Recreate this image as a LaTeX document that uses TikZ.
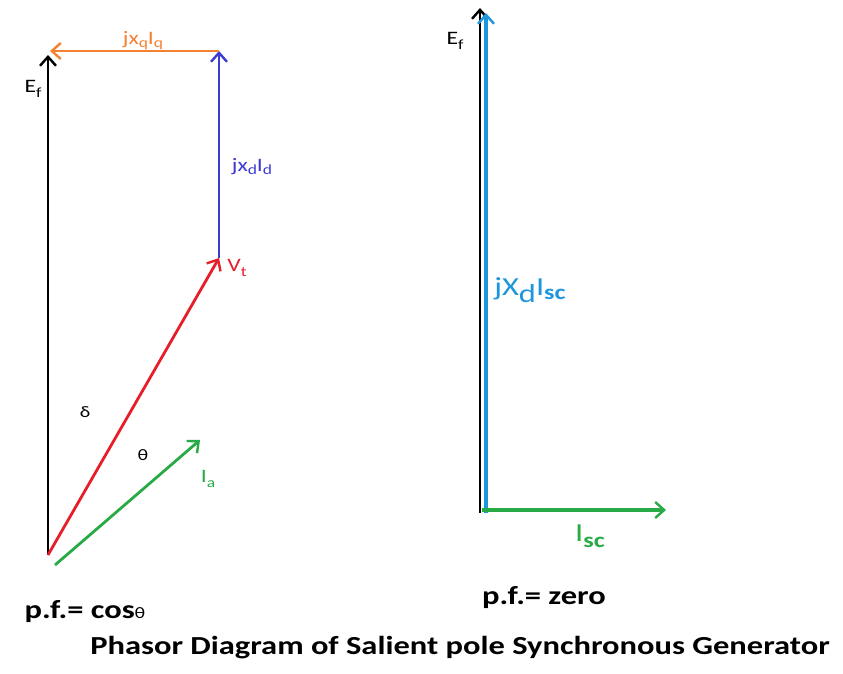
\documentclass[tikz,border=0pt]{standalone}
\usepackage{fontspec}
\setmainfont{Carlito}
\newfontfamily\wf[FakeStretch=1.25]{Carlito}
\usetikzlibrary{arrows.meta}
\definecolor{ored}{RGB}{230,30,40}
\definecolor{oorange}{RGB}{245,130,50}
\definecolor{oblue}{RGB}{60,60,210}
\definecolor{ogreen}{RGB}{40,170,70}
\definecolor{ocyan}{RGB}{30,150,220}
\newcommand{\sbs}[2]{\raisebox{#1}{\fontsize{14}{15}\selectfont #2}}
\tikzset{
  vec/.style={line width=2.8pt,-{Straight Barb[length=9pt,width=16pt,line width=2.4pt]}},
  lbl/.style={inner sep=0pt,font=\wf\fontsize{19}{21}\selectfont},
  big/.style={inner sep=0pt,font=\wf\bfseries\fontsize{26}{30}\selectfont}
}
\begin{document}
\begin{tikzpicture}[x=1pt,y=1pt]
\useasboundingbox (0,0) rectangle (843,673);
% left diagram (y = 673 - pixel y)
\coordinate (O) at (48,118);
\coordinate (EfT) at (48,618);
\coordinate (V) at (219,415);
\coordinate (B) at (219,622);
\coordinate (Q) at (50,622);
\coordinate (Ia0) at (55,108);
\coordinate (Ia1) at (200,233);
\draw[vec,black] (O) -- (EfT);
\draw[vec,ored] (O) -- (V);
\draw[vec,oblue,line width=2.4pt] (V) -- (B);
\draw[vec,oorange] (B) -- (Q);
\draw[vec,ogreen] (Ia0) -- (Ia1);
\node[lbl] (lef) at (33,584) {E\sbs{-5pt}{f}};
\node[lbl,oorange] (lxq) at (143,632) {jx\sbs{-3pt}{q}I\sbs{-3pt}{q}};
\node[lbl,oblue] (lxd) at (252,506) {jx\sbs{-3pt}{d}I\sbs{-3pt}{d}};
\node[lbl,ored] (lvt) at (237,405) {V\sbs{-5pt}{t}};
\node[lbl,font=\wf\fontsize{16}{18}\selectfont] (ldel) at (85,261) {δ};
\node[lbl,font=\wf\fontsize{16}{18}\selectfont] (lth) at (143,218) {θ};
\node[lbl,ogreen] (lia) at (208,194) {I\sbs{-5pt}{a}};
% right diagram
\coordinate (O2) at (480,160);
\coordinate (E2) at (480,665);
\coordinate (C0) at (486,160);
\coordinate (C1) at (486,660);
\coordinate (S1) at (666,163);
\draw[vec,black] (O2) -- (E2);
\draw[vec,ocyan,line width=3.6pt] (C0) -- (C1);
\draw[vec,ogreen,line width=3.2pt] (O2) ++(2,3) -- (S1);
\node[lbl] (lef2) at (455,632) {E\sbs{-5pt}{f}};
\node[lbl,ocyan,font=\wf\fontsize{26}{28}\selectfont] (ljx) at (530,383) {jX\raisebox{-7pt}{d}I\raisebox{-4pt}{\bfseries\fontsize{21}{23}\selectfont sc}};
\node[lbl,ogreen,font=\wf\fontsize{26}{28}\selectfont] (lisc) at (590,137) {I\raisebox{-6pt}{\bfseries\fontsize{21}{23}\selectfont sc}};
% bottom texts
\node[big] (pf0) at (544,75) {p.f.= zero};
\node[big] (pf1) at (85,61) {p.f.= cos{\mdseries\fontsize{16}{17}\selectfont θ}};
\node[big] (title) at (460,25) {Phasor Diagram of Salient pole Synchronous Generator};
\end{tikzpicture}
\end{document}
